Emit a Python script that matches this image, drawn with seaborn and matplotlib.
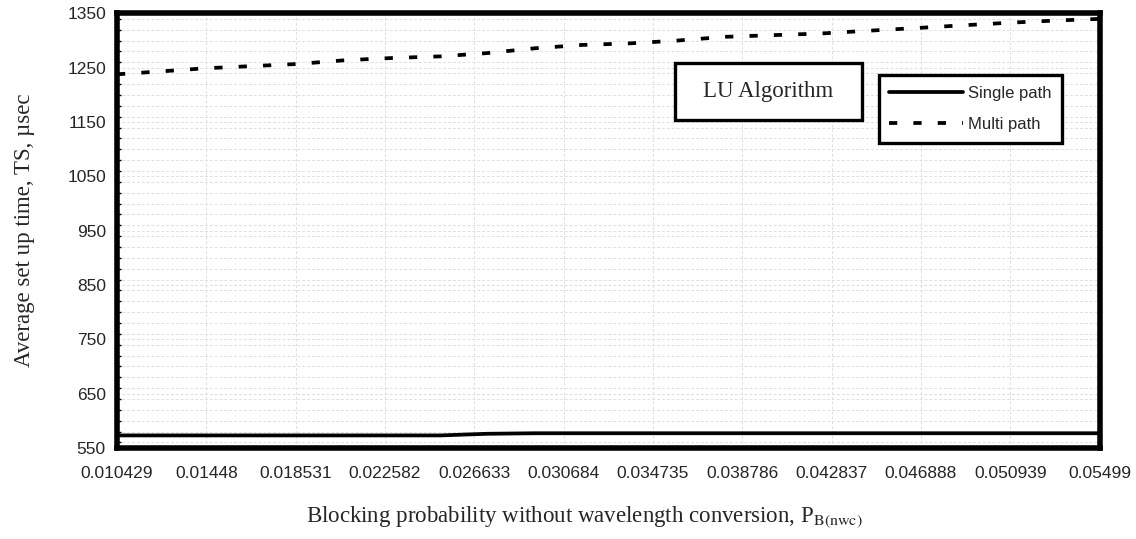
import matplotlib
matplotlib.use("Agg")
import matplotlib.pyplot as plt
import seaborn as sns
import pandas as pd
from matplotlib.patches import Rectangle
from matplotlib.ticker import MultipleLocator

# ---- data ----
blocking_prob = [0.010429, 0.0123, 0.0144, 0.0165, 0.0186, 0.0208, 0.0229, 0.0251,
                 0.0272, 0.0294, 0.0315, 0.0337, 0.0358, 0.0380, 0.0401, 0.0423,
                 0.0444, 0.0466, 0.0487, 0.0509, 0.0530, 0.05499]
single_path = [573, 573, 573, 573, 573, 573, 573, 573,
               576, 577, 577, 577, 577, 577, 577, 577,
               577, 577, 577, 577, 577, 577]
multi_path = [1238, 1243, 1249, 1253, 1257, 1264, 1268, 1271,
              1277, 1286, 1292, 1295, 1300, 1307, 1310, 1313,
              1318, 1323, 1328, 1333, 1337, 1340]
x_tick_labels = ["0.010429", "0.01448", "0.018531", "0.022582", "0.026633", "0.030684",
                 "0.034735", "0.038786", "0.042837", "0.046888", "0.050939", "0.05499"]
y_ticks = [550, 650, 750, 850, 950, 1050, 1150, 1250, 1350]
series_names = ["Single path", "Multi path"]

sns.set_theme(style="white")
plt.rcParams["font.family"] = ["Liberation Sans", "DejaVu Sans"]
plt.rcParams["mathtext.fontset"] = "stix"

fig = plt.figure(figsize=(11.36, 5.39), dpi=100)
ax = fig.add_axes([0.103, 0.169, 0.865, 0.806])

df = pd.DataFrame({"x": blocking_prob * 2,
                   "y": single_path + multi_path,
                   "series": [series_names[0]] * len(single_path) + [series_names[1]] * len(multi_path)})

sns.lineplot(data=df, x="x", y="y", hue="series", style="series",
             palette=["black", "black"], dashes={series_names[0]: "", series_names[1]: (2.2, 4.3)},
             linewidth=2.7, ax=ax, legend=True, zorder=3)

ax.set_xlim(0.010429, 0.05499)
ax.set_ylim(550, 1350)
xt = [float(s) for s in x_tick_labels]
ax.set_xticks(xt)
ax.set_xticklabels(x_tick_labels)
ax.set_yticks(y_ticks)
ax.set_yticklabels([str(v) for v in y_ticks])
ax.yaxis.set_minor_locator(MultipleLocator(20))

ax.grid(True, which="major", axis="x", color="#e0e0e0", linestyle=(0, (3, 2)), linewidth=0.7)
ax.grid(True, which="both", axis="y", color="#e0e0e0", linestyle=(0, (3, 2)), linewidth=0.7)
ax.set_axisbelow(True)

for sp in ax.spines.values():
    sp.set_visible(True)
    sp.set_color("black")
    sp.set_linewidth(4)

ax.tick_params(axis="both", which="both", direction="in", color="black")
ax.tick_params(axis="y", which="major", length=5, width=1.2, pad=8, labelsize=12.5)
ax.tick_params(axis="y", which="minor", length=3, width=1.0, left=True)
ax.tick_params(axis="x", which="major", length=4, width=1.0, pad=13, labelsize=12.5)

ax.set_xlabel(r"Blocking probability without wavelength conversion, P$_{\mathrm{B(nwc)}}$",
              family="Liberation Serif", fontsize=16.5)
ax.xaxis.set_label_coords(0.476, -0.13)
ax.set_ylabel("Average set up time, TS, µsec", family="Liberation Serif", fontsize=16.5)
ax.yaxis.set_label_coords(-0.083, 0.5)

# LU Algorithm box
ax.add_patch(Rectangle((0.568, 0.755), 0.19, 0.131, transform=ax.transAxes,
                       facecolor="white", edgecolor="black", linewidth=2.4, zorder=5))
ax.text(0.663, 0.82, "LU Algorithm", transform=ax.transAxes, ha="center", va="center",
        family="Liberation Serif", fontsize=16.5, zorder=6)

handles, labels = ax.get_legend_handles_labels()
leg = ax.legend(handles=handles, labels=labels, loc="upper left", bbox_to_anchor=(0.775, 0.858),
                borderaxespad=0, frameon=True, fancybox=False, framealpha=1, fontsize=12,
                handlelength=4.4, handletextpad=0.3, borderpad=0.65, labelspacing=0.95)
leg.get_frame().set_edgecolor("black")
leg.get_frame().set_linewidth(2.4)
leg.set_zorder(6)
for line in leg.get_lines():
    line.set_linewidth(2.7)

fig.savefig("out.png", dpi=100)
